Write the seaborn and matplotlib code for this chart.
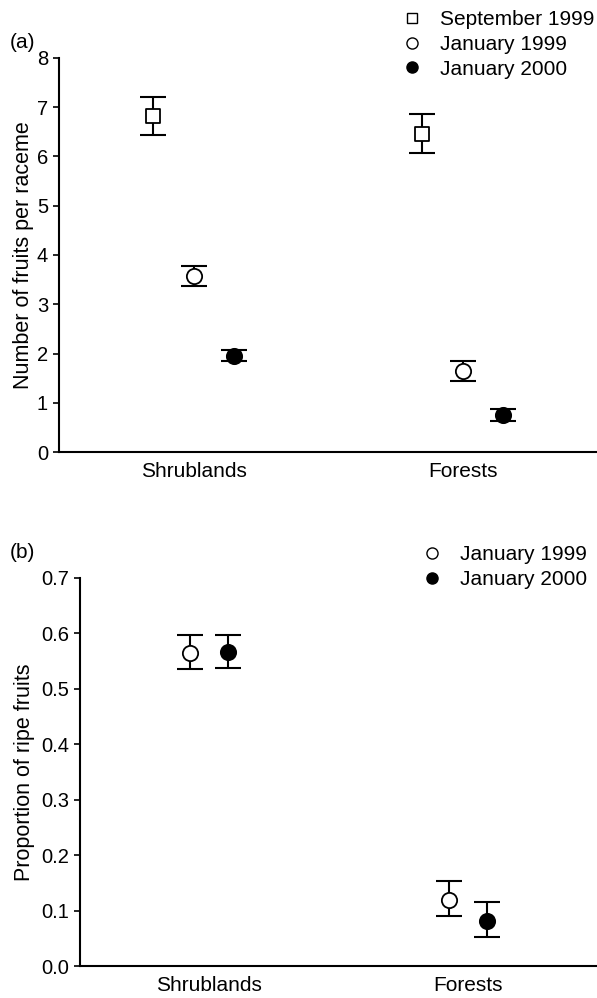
import matplotlib
matplotlib.use('Agg')
import matplotlib.pyplot as plt
from matplotlib.lines import Line2D
import numpy as np
import pandas as pd
import seaborn as sns

habitats = ['Shrublands', 'Forests']

# panel (a): fruits per raceme
a_series = ['September 1999', 'January 1999', 'January 2000']
a_mean = {
    'September 1999': [6.82, 6.45],
    'January 1999': [3.57, 1.65],
    'January 2000': [1.95, 0.76],
}
a_low = {
    'September 1999': [6.43, 6.07],
    'January 1999': [3.37, 1.45],
    'January 2000': [1.84, 0.63],
}
a_high = {
    'September 1999': [7.20, 6.86],
    'January 1999': [3.78, 1.84],
    'January 2000': [2.08, 0.88],
}

# panel (b): proportion of ripe fruits
b_series = ['January 1999', 'January 2000']
b_mean = {
    'January 1999': [0.565, 0.120],
    'January 2000': [0.567, 0.082],
}
b_low = {
    'January 1999': [0.535, 0.090],
    'January 2000': [0.538, 0.052],
}
b_high = {
    'January 1999': [0.597, 0.153],
    'January 2000': [0.597, 0.115],
}

MARKERS = {'September 1999': 's', 'January 1999': 'o', 'January 2000': 'o'}
FACES = {'September 1999': 'white', 'January 1999': 'white', 'January 2000': 'black'}
MSIZE = {'September 1999': 10, 'January 1999': 11, 'January 2000': 11}

sns.set_style('ticks', {'axes.edgecolor': 'black', 'text.color': 'black',
                        'xtick.color': 'black', 'ytick.color': 'black',
                        'axes.labelcolor': 'black'})
plt.rcParams['font.family'] = ['Liberation Sans', 'DejaVu Sans']

fig = plt.figure(figsize=(5.97, 9.98), dpi=100)
ax_a = fig.add_axes([0.099, 0.547, 0.901, 0.395])
ax_b = fig.add_axes([0.134, 0.032, 0.866, 0.389])


def draw_panel(ax, series, mean, low, high, step):
    n = len(series)
    rows = []
    for k, s in enumerate(series):
        off = (k - (n - 1) / 2) * step
        for i, h in enumerate(habitats):
            rows.append({'series': s, 'habitat': h, 'x': i + off,
                         'y': mean[s][i], 'lo': low[s][i], 'hi': high[s][i]})
    df = pd.DataFrame(rows)
    for s in series:
        d = df[df['series'] == s]
        ax.errorbar(d['x'], d['y'], yerr=[d['y'] - d['lo'], d['hi'] - d['y']],
                    fmt='none', ecolor='black', elinewidth=1.5, capsize=9.5,
                    capthick=1.5, zorder=2)
        sns.scatterplot(data=d, x='x', y='y', ax=ax, marker=MARKERS[s],
                        s=MSIZE[s] ** 2, color=FACES[s], edgecolor='black',
                        linewidth=1.3, zorder=3, legend=False)
    handles = [Line2D([], [], linestyle='none', marker=MARKERS[s],
                      markerfacecolor=FACES[s], markeredgecolor='black',
                      markersize=7.5 if MARKERS[s] == 's' else 8,
                      markeredgewidth=1.0, label=s) for s in series]
    ax.set_xticks(range(len(habitats)))
    ax.set_xticklabels(habitats)
    ax.set_xlim(-0.5, 1.5)
    ax.set_xlabel('')
    ax.tick_params(axis='x', length=0, labelsize=15, pad=7)
    ax.tick_params(axis='y', length=4, width=1.2, labelsize=14.5, direction='out', pad=4)
    for sp in ['top', 'right']:
        ax.spines[sp].set_visible(False)
    for sp in ['left', 'bottom']:
        ax.spines[sp].set_linewidth(1.5)
    return handles


h_a = draw_panel(ax_a, a_series, a_mean, a_low, a_high, 0.15)
ax_a.set_ylim(0, 8)
ax_a.set_yticks(range(0, 9))
ax_a.set_ylabel('Number of fruits per raceme', fontsize=15.5, labelpad=2)
fig.legend(handles=h_a, loc='upper left', bbox_to_anchor=(402 / 597, 1 - 10 / 998),
           frameon=False, fontsize=15, handletextpad=0.8, labelspacing=0.28,
           borderaxespad=0, borderpad=0, handlelength=1.0)
fig.text(10 / 597, 1 - 42 / 998, '(a)', fontsize=15, va='center')

h_b = draw_panel(ax_b, b_series, b_mean, b_low, b_high, 0.146)
ax_b.set_ylim(0, 0.7)
ax_b.set_yticks(np.arange(0, 0.71, 0.1))
ax_b.set_yticklabels([f'{v:.1f}' for v in np.arange(0, 0.71, 0.1)])
ax_b.set_ylabel('Proportion of ripe fruits', fontsize=15.5, labelpad=4)
fig.legend(handles=h_b, loc='upper left', bbox_to_anchor=(422 / 597, 1 - 545 / 998),
           frameon=False, fontsize=15, handletextpad=0.8, labelspacing=0.28,
           borderaxespad=0, borderpad=0, handlelength=1.0)
fig.text(10 / 597, 1 - 553 / 998, '(b)', fontsize=15, va='center')

plt.savefig('out.png', dpi=100)
